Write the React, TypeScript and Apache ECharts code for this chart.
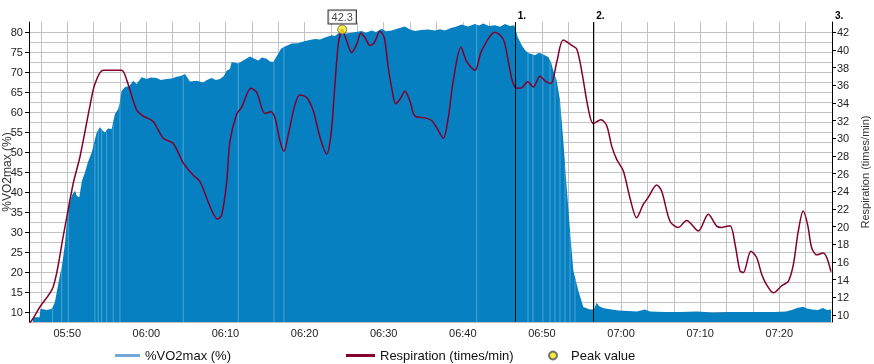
import React, { useEffect, useRef } from 'react';
import * as echarts from 'echarts';

// time in minutes since midnight
const vo2Time = [
  345.65, 345.67, 346.5, 346.61, 347.43, 348.06, 348.44, 349.07, 349.33, 349.71,
  350.12, 350.34, 350.59, 350.97, 351.23, 351.52, 351.86, 352.24, 352.62, 353.09,
  353.72, 354.13, 354.51, 354.76, 355.14, 355.61, 356.03, 356.44, 356.66, 356.87,
  357.29, 357.92, 358.34, 358.77, 359.41, 360.04, 360.57, 361.29, 361.84, 362.56,
  363.23, 363.83, 364.37, 364.88, 365.51, 366.36, 367.19, 367.65, 368.25, 368.79,
  369.3, 369.8, 370.15, 370.56, 370.78, 371.61, 372.34, 373.09, 373.6, 374.15,
  374.61, 375.21, 375.63, 376.04, 376.68, 377.02, 377.52, 378.37, 379.16, 380.05,
  380.68, 381.31, 381.95, 382.58, 383.43, 383.84, 384.48, 385.23, 385.95, 386.49,
  387.21, 387.76, 388.48, 389.02, 389.75, 390.29, 391.01, 391.8, 392.68, 393.32,
  393.95, 394.71, 395.63, 396.48, 397.11, 397.74, 398.5, 399.13, 399.85, 400.65,
  401.54, 402.04, 402.59, 403.31, 404.07, 404.7, 405.33, 405.97, 406.51, 406.94,
  407.45, 407.86, 408.28, 409.12, 409.63, 410.17, 410.8, 411.15, 411.44, 411.87,
  412.29, 412.7, 413.13, 413.55, 413.97, 414.6, 415.23, 416.08, 416.59, 416.92,
  417.21, 417.72, 418.19, 418.86, 419.66, 420.92, 422.01, 423.02, 423.66, 425.55,
  427.44, 429.6, 431.61, 433.51, 435.66, 437.56, 439.46, 440.85, 441.57, 442.25,
  443.03, 443.5, 444.13, 444.89, 445.53, 446.03, 446.54,
];
const vo2Value = [
  7.5, 8.7, 8.7, 10.8, 10.5, 10.8, 12.5, 19.1, 21.5, 27,
  36.5, 37.4, 39.2, 40.3, 39.0, 38.7, 42.8, 44.9, 47.5, 49.9,
  54.9, 56.2, 55.3, 54.9, 55.9, 55.75, 59.5, 60.75, 62.5, 65.3,
  66.2, 66.6, 67.8, 67.0, 68.7, 68.25, 68.6, 68.5, 68.0, 68.25,
  68.4, 68.8, 69.0, 69.5, 67.6, 67.8, 67.4, 68.0, 68.5, 68.0,
  68.25, 69.0, 70.3, 70.75, 72.5, 72.1, 73.0, 73.9, 73.4, 72.9,
  73.6, 73.3, 72.6, 72.5, 74.6, 75.8, 76.4, 77.1, 77.2, 77.75,
  78.0, 78.25, 78.1, 78.6, 79.2, 79.0, 80.0, 79.6, 79.8, 80.0,
  80.25, 79.8, 80.4, 80.0, 80.8, 80.2, 80.4, 80.9, 81.4, 80.6,
  80.25, 80.5, 80.6, 80.4, 80.7, 80.4, 81.0, 81.3, 81.9, 81.4,
  82.0, 81.6, 82.1, 81.5, 81.7, 81.3, 82.0, 81.5, 81.7, 78.75,
  76.7, 75.5, 74.75, 74.2, 74.8, 74.4, 73.75, 72.5, 70.4, 67.9,
  62.9, 52.9, 41.25, 30.4, 20.4, 15.4, 11.25, 10.6, 10.7, 12.3,
  11.5, 11.0, 10.8, 10.6, 10.4, 10.25, 10.1, 10.6, 10.1, 10.0,
  10.0, 10.1, 9.9, 10.0, 10.0, 10.0, 10.0, 10.1, 10.5, 11.0,
  11.3, 10.9, 10.6, 10.5, 11.0, 10.5, 10.6,
];

const respTime = [
  345.17, 345.69, 346.54, 348.23, 349.49, 350.76, 351.61, 352.86, 353.49, 354.54,
  356.87, 357.51, 358.77, 359.61, 360.86, 362.13, 363.4, 364.66, 365.93, 366.78,
  368.04, 368.97, 369.52, 370.15, 370.56, 371.41, 372.04, 373.22, 373.94, 374.99,
  375.75, 376.26, 376.89, 377.4, 377.94, 378.78, 379.41, 380.26, 381.1, 381.95,
  382.79, 383.34, 383.84, 384.26, 384.76, 385.32, 385.95, 386.58, 387.13, 387.63,
  388.26, 388.81, 389.53, 390.07, 390.58, 391.01, 391.51, 392.05, 392.68, 393.32,
  393.95, 395.22, 396.06, 396.7, 397.53, 398.16, 398.79, 399.76, 400.48, 401.54,
  402.38, 404.07, 405.12, 405.75, 406.26, 406.81, 407.45, 408.21, 408.91, 409.75,
  410.39, 411.15, 411.87, 412.7, 413.77, 414.4, 415.03, 415.87, 416.5, 417.46,
  418.19, 418.82, 419.45, 420.29, 421.14, 421.97, 422.81, 423.44, 424.51, 425.14,
  426.19, 427.24, 428.29, 429.76, 431.03, 432.09, 432.72, 433.77, 434.41, 435.03,
  435.45, 436.42, 437.14, 437.78, 438.41, 439.25, 440.31, 441.14, 441.78, 442.41,
  443.03, 443.59, 444.1, 444.73, 445.57, 446.0, 446.54,
];
const respValue = [
  9.0, 9.6, 10.9, 13.2, 18.9, 24.9, 27.9, 33.6, 36.1, 37.7,
  37.7, 36.6, 33.2, 32.5, 31.9, 30.0, 29.4, 27.2, 25.8, 25.1,
  22.3, 20.85, 21.3, 25.0, 29.6, 32.7, 33.5, 35.65, 35.2, 32.8,
  33.0, 32.3, 29.7, 28.5, 30.4, 33.8, 34.9, 34.6, 33.1, 30.1,
  28.2, 30.4, 36.1, 40.6, 42.3, 41.0, 39.7, 40.6, 41.9, 41.4,
  40.5, 40.8, 42.1, 41.4, 38.0, 35.7, 33.9, 34.4, 35.3, 34.2,
  32.5, 32.3, 32.0, 31.2, 30.0, 32.3, 36.5, 40.3, 38.7, 37.7,
  39.9, 42.0, 41.2, 38.7, 36.5, 35.65, 35.7, 36.4, 35.8, 37.0,
  36.5, 36.2, 38.6, 41.1, 40.5, 40.1, 37.6, 33.3, 31.65, 32.1,
  31.4, 29.1, 27.6, 26.3, 23.2, 21.0, 22.5, 23.3, 24.7, 24.0,
  20.6, 19.9, 20.7, 19.5, 21.4, 20.05, 19.9, 20.1, 18.0, 15.0,
  14.8, 17.2, 16.5, 14.6, 13.4, 12.5, 13.3, 13.8, 15.7, 19.5,
  21.75, 20.2, 17.6, 16.8, 17.0, 16.5, 14.9,
];

// short signal dropouts in the %VO2max trace (time, level at that moment)
const dropoutTime = [
  348.15, 349.29, 350.13, 353.5, 353.92, 354.35, 354.98, 355.81, 356.66, 364.66,
  371.62, 376.13, 377.39, 401.75, 408.24, 408.87, 410.13, 411.02, 411.65, 412.28,
  412.92, 413.55, 414.18,
];
const dropoutValue = [
  10.8, 21, 36.5, 52, 55.5, 56, 55, 57, 63, 69,
  72, 72.5, 76, 82, 74.8, 74.3, 74.4, 73.5, 69, 63,
  47, 30, 18,
];

const markerTimes = [406.57, 416.49, 446.66];
const markerLabels = ['1.', '2.', '3.'];
const peakTime = 384.76;
const peakValue = 42.3;

const xLabelValues = [350, 360, 370, 380, 390, 400, 410, 420, 430, 440];
const leftTickValues = [10, 15, 20, 25, 30, 35, 40, 45, 50, 55, 60, 65, 70, 75, 80];
const rightTickValues = [10, 12, 14, 16, 18, 20, 22, 24, 26, 28, 30, 32, 34, 36, 38, 40, 42];

const X_MIN = 345.1667;
const X_MAX = 446.667;
const X_GRID_START = 346.6667;
const X_GRID_STEP = 10 / 3;
const xGridValues: number[] = [];
for (let v = X_GRID_START; v <= X_MAX; v += X_GRID_STEP) xGridValues.push(Math.round(v * 10000) / 10000);

const FONT = '"Liberation Sans", Arial, Helvetica, sans-serif';

const fmtTime = (v: number) => {
  const total = Math.round(v);
  const h = Math.floor(total / 60);
  const m = total % 60;
  return `${String(h).padStart(2, '0')}:${String(m).padStart(2, '0')}`;
};

const GRID_COLOR = '#c3c3c3';
const VO2_FILL = '#0780c2';
const VO2_LEGEND = '#72a7d8';
const RESP_COLOR = '#82002b';

export default function App() {
  const ref = useRef<HTMLDivElement>(null);
  useEffect(() => {
    if (!ref.current) return;
    const chart = echarts.init(ref.current, null, { renderer: 'svg' });
    const legendBase = {
      top: 349, itemGap: 10, padding: 0, selectedMode: false,
      textStyle: { fontSize: 13, color: '#111', fontFamily: FONT },
    };
    const option: any = {
      animation: false,
      textStyle: { fontFamily: FONT },
      grid: { left: 29, right: 42, top: 22, bottom: 42, containLabel: false, outerBoundsMode: 'none' },
      xAxis: {
        type: 'value',
        min: X_MIN,
        max: X_MAX,
        axisLine: { show: true, onZero: false, lineStyle: { color: '#bdbdbd' } },
        axisTick: { show: false, customValues: xGridValues },
        axisLabel: { customValues: xLabelValues, formatter: fmtTime, fontSize: 11, color: '#222', margin: 5, fontFamily: FONT },
        splitLine: { show: true, lineStyle: { color: GRID_COLOR, width: 1 } },
      },
      yAxis: [
        {
          type: 'value', position: 'left', min: 7.5, max: 82.5,
          name: '%VO2max (%)', nameLocation: 'middle', nameGap: 16, nameRotate: 90, nameMoveOverlap: false,
          nameTextStyle: { fontSize: 12, color: '#333', fontFamily: FONT },
          axisLine: { show: true, lineStyle: { color: '#000' } },
          axisTick: { show: true, length: 4, customValues: leftTickValues, lineStyle: { color: '#000' } },
          axisLabel: { customValues: leftTickValues, fontSize: 11, color: '#222', margin: 6, fontFamily: FONT },
          splitLine: { show: false },
        },
        {
          type: 'value', position: 'right', min: 9.2, max: 43.15,
          name: 'Respiration (times/min)', nameLocation: 'middle', nameGap: 27, nameRotate: 90, nameMoveOverlap: false,
          nameTextStyle: { fontSize: 11, color: '#333', fontFamily: FONT },
          axisLine: { show: true, lineStyle: { color: '#000' } },
          axisTick: { show: true, length: 4, customValues: rightTickValues, lineStyle: { color: '#000' } },
          axisLabel: { customValues: rightTickValues, fontSize: 11, color: '#222', margin: 5, fontFamily: FONT },
          splitLine: { show: false },
        },
        {
          type: 'value', position: 'left', min: 7.5, max: 82.5, interval: 2.5,
          axisLine: { show: false }, axisTick: { show: false }, axisLabel: { show: false },
          splitLine: { show: true, showMaxLine: false, lineStyle: { color: GRID_COLOR, width: 1 } },
        },
      ],
      legend: [
        { ...legendBase, left: 115, itemWidth: 25, itemHeight: 3, data: [{ name: '%VO2max (%)', icon: 'rect' }] },
        { ...legendBase, left: 346, itemWidth: 29, itemHeight: 3, data: [{ name: 'Respiration (times/min)', icon: 'rect' }] },
        { ...legendBase, left: 548, itemWidth: 26, itemHeight: 8, data: [{ name: 'Peak value', icon: 'circle' }] },
      ],
      series: [
        {
          name: '%VO2max (%)', type: 'line', xAxisIndex: 0, yAxisIndex: 0,
          data: vo2Time.map((t, i) => [t, vo2Value[i]]),
          symbol: 'none', lineStyle: { width: 0, color: VO2_LEGEND }, itemStyle: { color: VO2_LEGEND },
          areaStyle: { color: VO2_FILL, opacity: 1 }, z: 2,
        },
        {
          name: 'dropouts', type: 'bar', xAxisIndex: 0, yAxisIndex: 0,
          data: dropoutTime.map((t, i) => [t, dropoutValue[i]]),
          barWidth: 1, itemStyle: { color: 'rgba(255,255,255,0.28)' }, clip: true, z: 3, silent: true,
        },
        {
          name: 'Respiration (times/min)', type: 'line', xAxisIndex: 0, yAxisIndex: 1,
          data: respTime.map((t, i) => [t, respValue[i]]),
          symbol: 'none', smooth: 0.3, lineStyle: { color: RESP_COLOR, width: 1.5 }, itemStyle: { color: RESP_COLOR }, z: 4,
          markLine: {
            silent: true, symbol: ['none', 'none'],
            lineStyle: { color: '#000', width: 1, type: 'solid' },
            label: { show: true, position: 'end', align: 'left', padding: [0, 0, 0, 3], distance: 2, fontSize: 10, fontWeight: 'bold', color: '#000', fontFamily: FONT },
            data: markerTimes.map((t, i) => ({ xAxis: t, label: { formatter: markerLabels[i] } })),
          },
        },
        {
          name: 'Peak value', type: 'scatter', xAxisIndex: 0, yAxisIndex: 1,
          data: [[peakTime, peakValue]],
          symbol: 'circle', symbolSize: 9,
          itemStyle: { color: '#f3e614', borderColor: '#555', borderWidth: 1 },
          label: {
            show: true, position: 'top', distance: 1, formatter: peakValue.toFixed(1),
            fontSize: 11, color: '#111', backgroundColor: '#fff', borderColor: '#000', borderWidth: 1,
            padding: [1, 3], fontFamily: FONT,
          },
          z: 6,
        },
      ],
    };
    chart.setOption(option);
    return () => chart.dispose();
  }, []);
  return <div ref={ref} style={{ position: 'fixed', left: 0, top: 0, width: 874, height: 364 }} />;
}
